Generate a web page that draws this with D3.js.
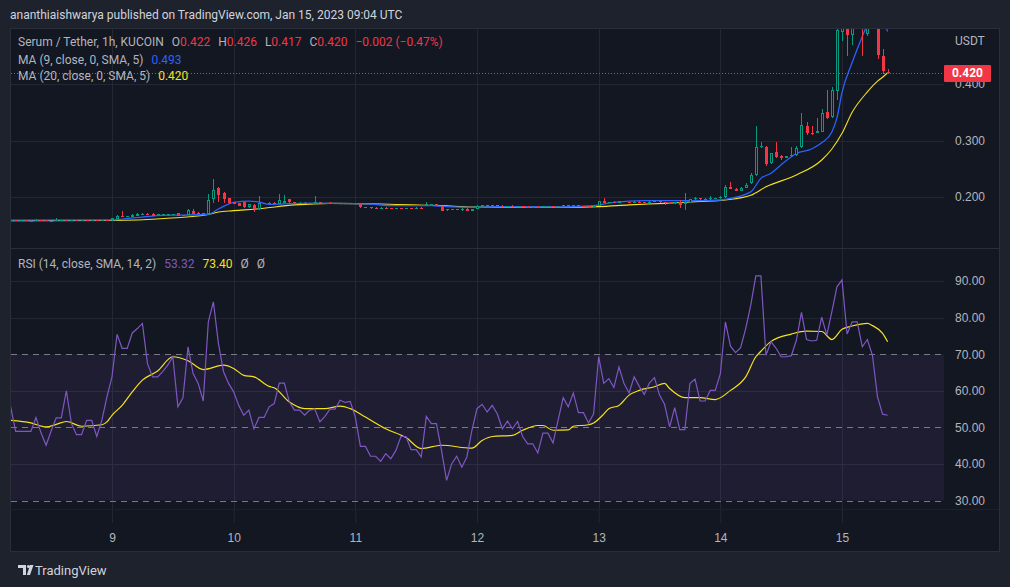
<!DOCTYPE html>
<html>
<head>
<meta charset="utf-8">
<script src="https://cdn.jsdelivr.net/npm/d3@7"></script>
<style>
  html, body { margin: 0; padding: 0; background: #1e222d; }
  svg { display: block; font-family: Roboto, "Noto Sans", sans-serif; }
  .axis text { fill: #b2b5be; font-size: 12px; }
</style>
</head>
<body>
<svg id="chart" width="1010" height="587"></svg>
<script>
// SRM/USDT 1h candles, Jan 8 04:00 -> Jan 15 09:00 UTC (174 bars)
const open = [
  .1588,.1590,.1586,.1588,.1572,.1583,.1590,.1588,.1580,.1576,
  .1588,.1590,.1587,.1589,.1586,.1588,.1585,.1587,.1580,.1586,
  .1585,.1622,.1668,.1645,.1652,.1672,.1700,.1704,.1705,.1670,
  .1672,.1676,.1690,.1710,.1665,.1680,.1760,.1722,.1712,.1700,
  .1960,.2154,.2076,.1977,.1906,.1888,.1906,.1817,.1858,.1782,
  .1880,.1890,.1900,.1876,.1900,.1960,.1905,.1892,.1900,.1890,
  .1895,.1905,.1890,.1897,.1888,.1895,.1890,.1894,.1885,.1888,
  .1810,.1820,.1810,.1795,.1812,.1800,.1790,.1805,.1795,.1805,
  .1798,.1812,.1845,.1865,.1875,.1830,.1785,.1760,.1790,.1765,
  .1795,.1760,.1790,.1838,.1852,.1840,.1852,.1845,.1830,.1840,
  .1835,.1842,.1830,.1820,.1828,.1812,.1830,.1836,.1822,.1836,
  .1850,.1840,.1852,.1840,.1835,.1826,.1841,.1929,.1900,.1915,
  .1900,.1928,.1910,.1900,.1920,.1912,.1906,.1918,.1930,.1910,
  .1900,.1888,.1917,.1880,.1888,.1960,.1975,.1958,.1960,.1968,
  .1975,.2005,.2175,.2150,.2120,.2160,.2240,.2390,.2885,.2880,
  .2597,.2790,.2720,.2680,.2725,.2740,.2880,.3257,.3130,.3120,
  .3155,.3500,.3410,.3880,.4925,.5100,.4870,.5300,.5450,.4900,
  .5200,.5350,.4496,.4220
];
const high = [
  .1592,.1594,.1590,.1592,.1586,.1614,.1593,.1590,.1584,.1620,
  .1592,.1593,.1591,.1592,.1590,.1591,.1589,.1590,.1589,.1590,
  .1630,.1675,.1758,.1668,.1695,.1712,.1712,.1708,.1710,.1700,
  .1700,.1705,.1702,.1714,.1680,.1785,.1785,.1730,.1718,.2050,
  .2320,.2180,.2090,.1985,.1915,.1895,.1920,.1875,.1870,.2018,
  .1900,.1905,.1905,.2053,.2035,.1965,.1910,.1905,.1904,.1902,
  .2018,.1910,.1900,.1905,.1900,.1900,.1898,.1898,.1895,.1892,
  .1825,.1830,.1815,.1830,.1815,.1805,.1805,.1810,.1810,.1810,
  .1815,.1815,.1917,.1880,.1880,.1835,.1790,.1790,.1795,.1800,
  .1798,.1795,.1860,.1858,.1860,.1858,.1865,.1850,.1845,.1858,
  .1848,.1846,.1835,.1832,.1832,.1838,.1840,.1840,.1842,.1855,
  .1855,.1858,.1856,.1845,.1838,.1845,.1935,.1988,.1920,.1925,
  .1932,.1932,.1920,.1925,.1928,.1920,.1925,.1935,.1935,.1915,
  .1905,.1915,.1947,.2077,.1965,.2005,.1980,.1975,.2018,.1985,
  .2010,.2205,.2270,.2160,.2170,.2250,.2420,.3257,.2980,.2895,
  .2780,.2980,.2740,.2730,.2880,.2900,.3490,.3330,.3257,.3400,
  .3550,.3890,.3950,.5200,.5400,.5300,.5500,.5600,.5550,.5500,
  .5700,.5450,.4620,.4260
];
const low = [
  .1582,.1584,.1582,.1584,.1568,.1580,.1584,.1572,.1570,.1574,
  .1584,.1585,.1583,.1585,.1582,.1584,.1581,.1576,.1578,.1583,
  .1582,.1618,.1640,.1640,.1648,.1668,.1694,.1680,.1665,.1665,
  .1668,.1672,.1686,.1660,.1660,.1676,.1700,.1705,.1690,.1690,
  .1900,.1920,.1900,.1880,.1870,.1835,.1800,.1812,.1740,.1778,
  .1870,.1880,.1880,.1870,.1895,.1880,.1885,.1888,.1885,.1885,
  .1890,.1885,.1885,.1885,.1882,.1885,.1884,.1880,.1880,.1805,
  .1800,.1795,.1790,.1790,.1790,.1785,.1785,.1790,.1790,.1792,
  .1795,.1795,.1840,.1855,.1840,.1755,.1755,.1752,.1765,.1760,
  .1755,.1755,.1785,.1830,.1835,.1835,.1835,.1825,.1825,.1830,
  .1830,.1825,.1815,.1815,.1808,.1808,.1825,.1818,.1818,.1830,
  .1835,.1835,.1832,.1828,.1820,.1822,.1835,.1885,.1895,.1895,
  .1895,.1905,.1895,.1895,.1908,.1900,.1900,.1912,.1900,.1858,
  .1880,.1882,.1800,.1770,.1885,.1950,.1950,.1952,.1955,.1962,
  .1968,.1990,.2135,.2115,.2115,.2155,.2230,.2380,.2870,.2540,
  .2590,.2690,.2660,.2670,.2715,.2730,.2870,.3095,.3100,.3110,
  .3150,.3380,.3400,.3720,.4766,.4496,.4690,.5200,.4496,.4850,
  .5100,.4450,.4180,.4170
];
const close = [
  .1590,.1586,.1588,.1587,.1583,.1590,.1588,.1576,.1574,.1588,
  .1590,.1587,.1589,.1586,.1588,.1585,.1587,.1580,.1586,.1585,
  .1624,.1668,.1645,.1660,.1690,.1706,.1704,.1686,.1670,.1695,
  .1696,.1700,.1698,.1665,.1676,.1770,.1715,.1710,.1694,.1950,
  .2125,.2035,.1977,.1888,.1876,.1841,.1817,.1870,.1782,.1888,
  .1895,.1900,.1885,.1947,.1935,.1905,.1892,.1900,.1890,.1898,
  .1905,.1890,.1897,.1888,.1895,.1890,.1894,.1885,.1890,.1810,
  .1820,.1800,.1795,.1810,.1795,.1790,.1800,.1795,.1805,.1798,
  .1810,.1800,.1875,.1875,.1848,.1765,.1760,.1785,.1770,.1790,
  .1760,.1790,.1840,.1852,.1840,.1852,.1838,.1830,.1840,.1835,
  .1842,.1828,.1820,.1828,.1812,.1834,.1836,.1822,.1838,.1850,
  .1840,.1852,.1836,.1832,.1826,.1840,.1929,.1888,.1915,.1900,
  .1928,.1910,.1900,.1920,.1912,.1906,.1920,.1930,.1910,.1895,
  .1888,.1910,.1871,.1915,.1960,.1975,.1958,.1968,.1975,.1978,
  .1995,.2180,.2145,.2120,.2165,.2210,.2390,.2890,.2900,.2580,
  .2770,.2700,.2680,.2720,.2745,.2860,.3270,.3127,.3120,.3160,
  .3490,.3390,.3890,.4956,.5100,.4870,.5300,.5450,.5050,.5300,
  .5350,.4510,.4222,.4200
];

// moving averages: [bar index, value]
const ma9 = [
  [0,.1590],[20,.1595],[22,.1610],[26,.1645],[30,.1675],[34,.1680],[39,.1695],[41,.1788],
  [44,.1906],[47,.1927],[49,.1912],[51,.1870],[54,.1880],[57,.1888],[61,.1890],[63,.1888],
  [70,.1877],[76,.1847],[83,.1847],[86,.1830],[91,.1818],[96,.1830],[102,.1827],[109,.1827],
  [115,.1847],[119,.1906],[125,.1935],[132,.1935],[136,.1935],[140,.1947],[141,.1960],
  [146,.2090],[148,.2330],[150,.2420],[152,.2570],[155,.2770],[158,.2850],[160,.2960],
  [162,.3150],[163,.3400],[164,.3850],[166,.4380],[168,.4840],[169,.5050],[170,.5200],
  [171,.5250],[172,.5120],[173,.4930]
];
const ma20 = [
  [0,.1582],[20,.1583],[31,.1623],[39,.1690],[41,.1735],[44,.1758],[49,.1793],[56,.1860],
  [63,.1888],[73,.1877],[79,.1860],[85,.1847],[91,.1824],[99,.1820],[109,.1818],[116,.1829],
  [122,.1860],[129,.1888],[136,.1920],[141,.1947],[146,.2030],[149,.2180],[155,.2390],
  [160,.2655],[162,.2850],[164,.3127],[166,.3500],[169,.3860],[171,.4050],[172,.4120],[173,.4200]
];

// RSI (14) per bar
const rsi = [
  55.7,48.9,48.9,48.9,48.9,52.7,48.5,45.1,49.0,52.6,
  52.6,60.0,51.0,48.0,48.0,51.9,51.9,47.5,51.9,58.3,
  63.8,75.4,71.6,71.6,75.8,77.0,78.4,67.4,63.8,63.8,
  65.2,67.0,69.3,55.6,58.1,72.0,64.7,62.0,57.2,78.8,
  84.3,72.9,65.2,62.0,59.7,56.0,53.3,54.7,49.6,52.7,
  52.7,55.6,56.5,62.1,62.1,56.9,54.7,54.7,53.3,54.7,
  55.0,51.5,53.0,55.0,55.0,57.4,56.8,57.1,52.8,44.8,
  44.8,42.1,42.1,40.7,42.8,41.4,43.7,47.5,47.5,43.9,
  43.9,41.9,53.0,51.0,51.0,43.7,35.5,40.0,42.1,39.1,
  41.9,49.2,55.1,56.3,54.2,56.0,53.7,49.6,51.7,49.6,
  51.6,47.5,45.5,45.5,43.0,48.4,48.4,45.7,52.0,58.1,
  55.6,59.4,54.0,54.0,51.2,53.7,69.3,62.0,63.3,60.9,
  66.5,62.0,59.4,63.8,61.2,59.0,62.1,63.6,58.8,56.3,
  50.1,55.4,49.4,49.4,62.0,63.2,57.2,57.2,60.1,60.1,
  64.7,78.8,72.2,70.4,71.8,77.0,83.4,91.4,91.4,69.7,
  73.4,71.6,69.3,69.3,69.6,73.8,81.4,74.0,73.6,73.8,
  80.1,75.2,81.6,88.4,90.3,75.5,78.8,78.8,72.0,74.0,
  69.7,58.3,53.6,53.3
];
// RSI smoothing (SMA 14): [bar index, value]
const rsiMa = [
  [0,51.9],[4,51.2],[7,50.1],[9,50.8],[11,51.6],[14,50.3],[18,50.7],[19,51.5],[20,53.3],
  [22,56.0],[24,59.7],[26,62.9],[29,65.4],[32,69.3],[35,68.2],[38,65.8],[42,67.0],[44,66.1],
  [46,64.2],[48,63.8],[51,61.2],[52,60.8],[55,56.9],[58,55.1],[62,55.1],[65,55.8],[67,55.1],
  [70,52.8],[74,49.6],[78,47.2],[81,44.2],[85,45.1],[91,44.3],[93,46.4],[95,47.5],[99,47.8],
  [101,49.2],[104,50.5],[105,50.5],[107,49.2],[110,49.3],[111,50.3],[114,50.7],[115,51.2],
  [117,53.6],[118,55.1],[120,56.0],[122,58.8],[124,60.1],[127,61.1],[129,62.0],[130,60.6],
  [133,58.1],[136,58.1],[139,57.6],[142,60.1],[145,63.8],[147,69.3],[148,70.8],[150,73.5],
  [154,75.5],[157,76.3],[160,76.2],[162,74.0],[164,76.8],[166,77.7],[169,78.4],[170,77.8],
  [172,75.7],[173,73.4]
];

const priceTicks = [0.2, 0.3, 0.4];
const rsiTicks = [30, 40, 50, 60, 70, 80, 90];
const rsiBands = [70, 50, 30];
const lastPrice = 0.420;

const headerText = "ananthiaishwarya published on TradingView.com, Jan 15, 2023 09:04 UTC";

const svg = d3.select("#chart"),
    width = +svg.attr("width"),
    height = +svg.attr("height");

const frame = { left: 10, right: 999, top: 28, bottom: 551 };
const plotRight = 944;
const pricePane = { top: 28, bottom: 248 };
const rsiPane = { top: 249, bottom: 509 };

const BG = "#131722", GRID = "#232734", TXT = "#b2b5be";
const UP = "#089981", DOWN = "#f23645", BLUE = "#2962ff", YEL = "#f5e11c", PURP = "#7e57c2";

const start = Date.UTC(2023, 0, 8, 4);
const t = i => new Date(start + i * 3600e3);

const x = d3.scaleUtc()
    .domain([new Date(Date.UTC(2023, 0, 8, 3, 53)), new Date(Date.UTC(2023, 0, 15, 20, 7))])
    .range([frame.left, plotRight]);

const yP = d3.scaleLinear().domain([0.2, 0.4]).range([197, 84]);
const yR = d3.scaleLinear().domain([30, 90]).range([500.5, 281]);

const days = d3.utcDay.range(new Date(Date.UTC(2023, 0, 9)), new Date(Date.UTC(2023, 0, 16)));

// header
svg.append("text")
    .attr("x", 10).attr("y", 18.5)
    .attr("fill", "#d1d4dc").attr("font-size", 12)
    .text(headerText);

// chart frame
svg.append("rect")
    .attr("x", frame.left + 0.5).attr("y", frame.top + 0.5)
    .attr("width", frame.right - frame.left).attr("height", frame.bottom - frame.top)
    .attr("fill", BG).attr("stroke", "#2a2e39");

const defs = svg.append("defs");
defs.append("clipPath").attr("id", "clipP").append("rect")
    .attr("x", frame.left + 1).attr("y", pricePane.top + 1)
    .attr("width", plotRight - frame.left - 1).attr("height", pricePane.bottom - pricePane.top - 1);
defs.append("clipPath").attr("id", "clipR").append("rect")
    .attr("x", frame.left + 1).attr("y", rsiPane.top)
    .attr("width", plotRight - frame.left - 1).attr("height", rsiPane.bottom - rsiPane.top);

// grid
const grid = svg.append("g").attr("stroke", GRID).attr("shape-rendering", "crispEdges");
days.forEach(d => {
    const xx = Math.round(x(d)) + 0.5;
    grid.append("line").attr("x1", xx).attr("x2", xx).attr("y1", pricePane.top + 1).attr("y2", pricePane.bottom);
    grid.append("line").attr("x1", xx).attr("x2", xx).attr("y1", rsiPane.top).attr("y2", rsiPane.bottom);
});
priceTicks.forEach(v => {
    const yy = Math.round(yP(v)) + 0.5;
    grid.append("line").attr("x1", frame.left + 1).attr("x2", plotRight).attr("y1", yy).attr("y2", yy);
});

// RSI background band 70-30
svg.append("rect")
    .attr("x", frame.left + 1).attr("y", yR(70))
    .attr("width", plotRight - frame.left - 1).attr("height", yR(30) - yR(70))
    .attr("fill", PURP).attr("fill-opacity", 0.1);

rsiTicks.filter(v => !rsiBands.includes(v)).forEach(v => {
    const yy = Math.round(yR(v)) + 0.5;
    grid.append("line").attr("x1", frame.left + 1).attr("x2", plotRight).attr("y1", yy).attr("y2", yy);
});
rsiBands.forEach(v => {
    const yy = Math.round(yR(v)) + 0.5;
    svg.append("line").attr("x1", frame.left + 1).attr("x2", plotRight).attr("y1", yy).attr("y2", yy)
        .attr("stroke", "#787b86").attr("stroke-dasharray", "6,5").attr("shape-rendering", "crispEdges");
});

// pane separators
svg.append("line").attr("x1", frame.left).attr("x2", frame.right).attr("y1", pricePane.bottom + 0.5).attr("y2", pricePane.bottom + 0.5)
    .attr("stroke", "#2a2e39");
svg.append("line").attr("x1", frame.left).attr("x2", frame.right).attr("y1", rsiPane.bottom + 0.5).attr("y2", rsiPane.bottom + 0.5)
    .attr("stroke", "#1c202b");

// price pane
const gP = svg.append("g").attr("clip-path", "url(#clipP)");

const maLine = d3.line().x(d => x(t(d[0]))).y(d => yP(d[1])).curve(d3.curveMonotoneX);
gP.append("path").datum(ma20).attr("d", maLine).attr("fill", "none").attr("stroke", YEL).attr("stroke-width", 1.1);
gP.append("path").datum(ma9).attr("d", maLine).attr("fill", "none").attr("stroke", BLUE).attr("stroke-width", 1.3);

const bars = d3.range(close.length).map(i => ({ i, o: open[i], h: high[i], l: low[i], c: close[i] }));

const candle = gP.selectAll("g.candle").data(bars).join("g").attr("class", "candle")
    .attr("shape-rendering", "crispEdges");

candle.each(function (d) {
    const g = d3.select(this);
    const cx = Math.round(x(t(d.i)));
    const up = d.c >= d.o;
    const col = up ? UP : DOWN;
    const yTop = yP(Math.max(d.o, d.c)), yBot = yP(Math.min(d.o, d.c));
    if (up) {
        g.append("line").attr("x1", cx + 0.5).attr("x2", cx + 0.5).attr("y1", yP(d.h)).attr("y2", yTop).attr("stroke", col);
        g.append("line").attr("x1", cx + 0.5).attr("x2", cx + 0.5).attr("y1", yBot).attr("y2", yP(d.l)).attr("stroke", col);
        const h = Math.max(1, Math.round(yBot - yTop));
        if (h > 2) {
            g.append("rect").attr("x", cx - 0.5).attr("y", Math.round(yTop) + 0.5).attr("width", 2).attr("height", h - 1)
                .attr("fill", BG).attr("stroke", col);
        } else {
            g.append("rect").attr("x", cx - 1).attr("y", Math.round(yTop)).attr("width", 3).attr("height", h).attr("fill", col);
        }
    } else {
        g.append("line").attr("x1", cx + 0.5).attr("x2", cx + 0.5).attr("y1", yP(d.h)).attr("y2", yP(d.l)).attr("stroke", col);
        const h = Math.max(1, Math.round(yBot - yTop));
        g.append("rect").attr("x", cx - 1).attr("y", Math.round(yTop)).attr("width", 3).attr("height", h).attr("fill", col);
    }
});

// last price dotted line
svg.append("line")
    .attr("x1", frame.left + 1).attr("x2", plotRight)
    .attr("y1", Math.round(yP(lastPrice)) + 0.5).attr("y2", Math.round(yP(lastPrice)) + 0.5)
    .attr("stroke", DOWN).attr("stroke-dasharray", "1,2");

// RSI pane
const gR = svg.append("g").attr("clip-path", "url(#clipR)");
gR.append("path").datum(rsiMa)
    .attr("d", d3.line().x(d => x(t(d[0]))).y(d => yR(d[1])).curve(d3.curveMonotoneX))
    .attr("fill", "none").attr("stroke", YEL).attr("stroke-width", 1.2);
gR.append("path").datum(rsi)
    .attr("d", d3.line().x((d, i) => x(t(i))).y(d => yR(d)))
    .attr("fill", "none").attr("stroke", PURP).attr("stroke-width", 1.2);

// legends
function legend(yBase, parts) {
    const txt = svg.append("text").attr("x", 18).attr("y", yBase).attr("font-size", 12);
    parts.forEach(([s, c, dx]) => txt.append("tspan").attr("fill", c).attr("dx", dx || 0).text(s));
}
legend(46, [["Serum / Tether, 1h, KUCOIN", TXT], ["O", TXT, 8], ["0.422", DOWN], ["H", TXT, 8], ["0.426", DOWN],
    ["L", TXT, 8], ["0.417", DOWN], ["C", TXT, 8], ["0.420", DOWN], ["\u22120.002 (\u22120.47%)", DOWN, 8]]);
legend(64, [["MA (9, close, 0, SMA, 5)", TXT], ["0.493", BLUE, 8]]);
legend(80, [["MA (20, close, 0, SMA, 5)", TXT], ["0.420", YEL, 8]]);
legend(268, [["RSI (14, close, SMA, 14, 2)", TXT], ["53.32", PURP, 8], ["73.40", YEL, 8], ["\u00d8", TXT, 8], ["\u00d8", TXT, 8]]);

// price axis
svg.append("g").attr("class", "axis")
    .attr("transform", `translate(${plotRight},0)`)
    .call(d3.axisRight(yP).tickValues(priceTicks).tickFormat(d3.format(".3f")).tickSize(0).tickPadding(11))
    .call(g => g.select(".domain").remove());
svg.append("text").attr("x", 955).attr("y", 44.5).attr("fill", TXT).attr("font-size", 12).text("USDT");

// last price label
svg.append("rect").attr("x", plotRight).attr("y", 65).attr("width", 47).attr("height", 17).attr("rx", 1).attr("fill", DOWN);
svg.append("text").attr("x", plotRight + 23.5).attr("y", yP(lastPrice) + 4.5).attr("text-anchor", "middle")
    .attr("fill", "#fff").attr("font-size", 12).attr("font-weight", "bold").text(d3.format(".3f")(lastPrice));

// RSI axis
svg.append("g").attr("class", "axis")
    .attr("transform", `translate(${plotRight},0)`)
    .call(d3.axisRight(yR).tickValues(rsiTicks).tickFormat(d3.format(".2f")).tickSize(0).tickPadding(11))
    .call(g => g.select(".domain").remove());

// time axis
svg.append("g").attr("class", "axis")
    .attr("transform", `translate(0,${rsiPane.bottom + 1})`)
    .call(d3.axisBottom(x).tickValues(days).tickFormat(d3.utcFormat("%-d")).tickSize(13).tickPadding(10))
    .call(g => g.select(".domain").remove())
    .call(g => g.selectAll(".tick line").attr("stroke", "#232734"));

// footer logo
const logo = svg.append("g").attr("fill", "#d1d4dc");
logo.append("path").attr("d", "M18,565 h8 v10 h-3 v-7 h-5 z");
logo.append("circle").attr("cx", 28.5).attr("cy", 566.5).attr("r", 1.6);
logo.append("path").attr("d", "M30,565 h3.5 l-3.5,10 h-3.2 z");
svg.append("text").attr("x", 35).attr("y", 575).attr("fill", "#d1d4dc").attr("font-size", 13).text("TradingView");
</script>
</body>
</html>
